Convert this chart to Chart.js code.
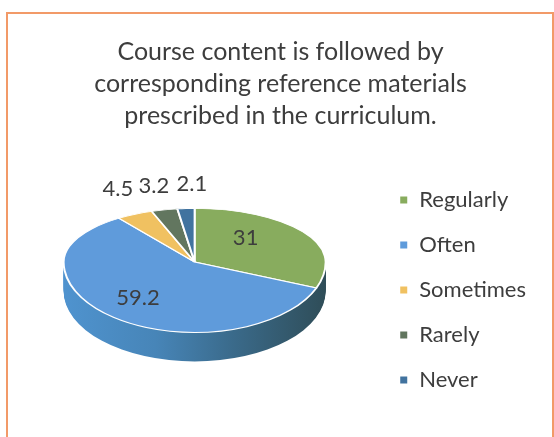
<!DOCTYPE html>
<html>
<head>
<meta charset="utf-8">
<title>Course content pie</title>
<script src="https://cdn.jsdelivr.net/npm/chart.js@4/dist/chart.umd.js"></script>
<style>
  html, body { margin: 0; padding: 0; background: #fff; overflow: hidden; }
  #wrap { position: relative; width: 554px; height: 437px; overflow: hidden; }
  #frame { position: absolute; left: 6px; top: 12px; width: 544px; height: 460px; border: 2.5px solid #f29a68; }
  #chart { position: absolute; left: 0; top: 0; }
</style>
</head>
<body>
<div id="wrap">
  <div id="frame"></div>
  <canvas id="chart" width="554" height="437"></canvas>
</div>
<script>
const titleLines = [
  'Course content is followed by',
  'corresponding reference materials',
  'prescribed in the curriculum.'
];
const categories = ['Regularly', 'Often', 'Sometimes', 'Rarely', 'Never'];
const values = [31, 59.2, 4.5, 3.2, 2.1];
const sliceColors = ['#88ac5e', '#5f9bdb', '#f0c161', '#62765f', '#41739f'];

const textColor = '#3d3d3d';
const fontName = 'Lato, "Open Sans", sans-serif';

// fake 3d look: the pie is squashed, less above its centre than below
const topSquash = 54 / 132;
const bottomSquash = 71 / 132;
const depth = 29;

// where each value label sits: radius factor of the slice, then a nudge
const labelRadius = [0.6, 0.6, 1.25, 1.25, 1.25];
const labelNudge = [[-14, -6], [-8, 3], [-2, -14], [-3, -11], [8, -11]];

function squash(ctx, cy, s) {
  ctx.translate(0, cy);
  ctx.scale(1, s);
  ctx.translate(0, -cy);
}

const pie3d = {
  id: 'pie3d',
  afterLayout(chart) {
    // legend sits lower than the pie's middle, title a bit right of the layout centre
    chart.legend.top += 76;
    chart.legend.bottom += 76;
    chart.titleBlock.left += 6;
    chart.titleBlock.right += 6;
  },
  beforeDatasetsDraw(chart) {
    const ctx = chart.ctx;
    const arcs = chart.getDatasetMeta(0).data;
    const cx = arcs[0].x, cy = arcs[0].y, r = arcs[0].outerRadius;
    const w = chart.width, h = chart.height;

    // side wall, the other slices are all above the centre line
    const side = ctx.createLinearGradient(cx - r, 0, cx + r, 0);
    side.addColorStop(0, '#4f93cf');
    side.addColorStop(0.35, '#4785b8');
    side.addColorStop(0.65, '#3a6a8a');
    side.addColorStop(1, '#2f4d58');
    ctx.save();
    ctx.beginPath();
    ctx.rect(0, cy, w, h - cy);
    ctx.clip();
    ctx.fillStyle = side;
    for (let d = depth; d >= 1; d--) {
      ctx.save();
      ctx.translate(0, d);
      squash(ctx, cy, bottomSquash);
      ctx.beginPath();
      ctx.moveTo(cx, cy);
      ctx.arc(cx, cy, r, arcs[0].startAngle, arcs[1].endAngle);
      ctx.closePath();
      ctx.fill();
      ctx.restore();
    }
    ctx.restore();

    // top face, in two halves
    [[0, cy, topSquash], [cy, h - cy, bottomSquash]].forEach(([y0, ch, s]) => {
      ctx.save();
      ctx.beginPath();
      ctx.rect(0, y0, w, ch);
      ctx.clip();
      squash(ctx, cy, s);
      arcs.forEach(a => a.draw(ctx));
      ctx.restore();
    });

    // value labels
    ctx.save();
    ctx.fillStyle = textColor;
    ctx.font = '22px ' + fontName;
    ctx.textAlign = 'center';
    ctx.textBaseline = 'middle';
    arcs.forEach((a, i) => {
      const mid = (a.startAngle + a.endAngle) / 2;
      const sn = Math.sin(mid);
      const x = cx + r * labelRadius[i] * Math.cos(mid) + labelNudge[i][0];
      const y = cy + r * labelRadius[i] * sn * (sn < 0 ? topSquash : bottomSquash) + labelNudge[i][1];
      ctx.fillText(String(values[i]), x, y);
    });
    ctx.restore();
    return false;
  }
};

new Chart(document.getElementById('chart').getContext('2d'), {
  type: 'pie',
  data: {
    labels: categories,
    datasets: [{
      data: values,
      backgroundColor: sliceColors,
      borderColor: '#fff',
      borderWidth: 2
    }]
  },
  plugins: [pie3d],
  options: {
    responsive: false,
    animation: false,
    layout: { padding: { left: 13, right: 18, top: 34, bottom: 43 } },
    plugins: {
      tooltip: { enabled: false },
      title: {
        display: true,
        text: titleLines,
        color: textColor,
        font: { family: fontName, size: 25, weight: 'normal', lineHeight: 1.28 },
        padding: { top: 2, bottom: -2 }
      },
      legend: {
        position: 'right',
        align: 'center',
        labels: {
          color: textColor,
          font: { family: fontName, size: 22 },
          boxWidth: 9,
          boxHeight: 9,
          padding: 23
        }
      }
    }
  }
});
</script>
</body>
</html>
